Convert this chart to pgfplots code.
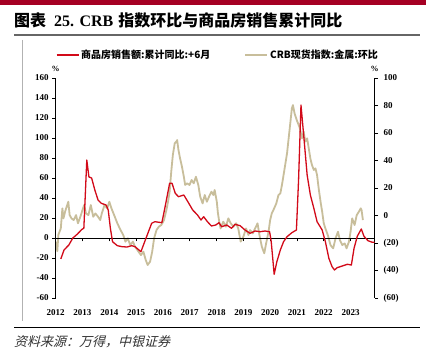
\documentclass[border=0pt]{standalone}
\usepackage{pgfplots}
\pgfplotsset{compat=1.18}
\usepackage{fontspec}
\setmainfont{Liberation Serif}
\newfontfamily\cjk{Noto Sans CJK SC}
\newfontfamily\cjkit{Noto Sans CJK SC}[FakeSlant=0.25]
\definecolor{redS}{RGB}{210,10,25}
\definecolor{beigeS}{RGB}{200,190,155}
\definecolor{band}{RGB}{165,0,35}

\begin{document}
\begin{tikzpicture}
\useasboundingbox (0pt,0pt) rectangle (426pt,361pt);
\fill[white] (0pt,0pt) rectangle (426pt,361pt);
\fill[band] (0pt,356pt) rectangle (426pt,361pt);
\node[anchor=west, inner sep=0pt] at (14pt,341pt) {\fontsize{16}{17}\selectfont\bfseries{\cjk 图表}\hspace{8pt}25. CRB\hspace{5pt}{\cjk 指数环比与商品房销售累计同比}};
\draw[line width=1.4pt, black!60] (14pt,326pt) -- (420pt,326pt);
\draw[line width=0.5pt, black!30] (22.7pt,321pt) -- (22.7pt,40pt);
\draw[line width=0.8pt, black] (14pt,34pt) -- (420pt,34pt);
\node[anchor=west, inner sep=0pt] at (14pt,19pt) {\fontsize{13}{14}\selectfont\color{black!80}\cjkit 资料来源：万得，中银证券};

\begin{axis}[
  at={(55.7pt,63pt)}, anchor=south west, width=319pt, height=220pt, scale only axis,
  xmin=2012, xmax=2023.9, ymin=-60, ymax=100,
  axis x line=none, axis y line*=right,
  axis line style={-, line width=0.8pt, black},
  ytick={-60,-40,...,100}, yticklabels={(60),(40),(20),0,20,40,60,80,100},
  tick align=outside, major tick length=3.5pt, tick style={line width=0.8pt,black},
  yticklabel style={font=\fontsize{9}{10}\selectfont\bfseries, xshift=2pt},
  ylabel={\%},
  every axis y label/.style={at={(rel axis cs:1,1)}, anchor=south, yshift=3pt, font=\fontsize{8}{9}\selectfont\bfseries},
]
\addplot[beigeS, line width=1.8pt, line join=round] coordinates {
(2012.01,-19) (2012.06,-26) (2012.10,-14) (2012.19,-9.4) (2012.25,5.2) (2012.29,-2.1) (2012.35,2.8) (2012.43,7.6) (2012.47,10) (2012.52,0.3) (2012.59,-2.1) (2012.67,-3.3) (2012.76,0.3) (2012.83,-5.7) (2012.92,-0.9)
(2013.00,4) (2013.06,7.6) (2013.13,1.5) (2013.22,0.3) (2013.31,7.6) (2013.40,-0.9) (2013.48,1.5) (2013.58,-0.9) (2013.66,-3.3) (2013.72,1.5) (2013.82,7.6) (2013.92,5.2)
(2014.00,10) (2014.08,5.2) (2014.18,0.3) (2014.30,-5.7) (2014.42,-10.6) (2014.52,-14.2) (2014.60,-19) (2014.69,-16.6) (2014.78,-21.5) (2014.88,-19) (2014.96,-22.7)
(2015.09,-26.3) (2015.18,-28.8) (2015.27,-26.3) (2015.36,-32.4) (2015.43,-36) (2015.52,-33.6) (2015.60,-26.3) (2015.67,-16.6) (2015.76,-10.6) (2015.85,-8.1) (2015.94,-6.9)
(2016.04,-3.3) (2016.13,4) (2016.19,10) (2016.25,17.3) (2016.31,31.8) (2016.37,44) (2016.44,52.5) (2016.50,53.7) (2016.53,54.9) (2016.58,47.6) (2016.64,41.5) (2016.71,35.5) (2016.78,28.2) (2016.83,22.2) (2016.90,23.4) (2016.99,22.2)
(2017.07,25.8) (2017.15,23.4) (2017.23,28.2) (2017.32,22.2) (2017.39,13.7) (2017.48,8.8) (2017.56,14.9) (2017.64,10) (2017.72,13.7) (2017.81,17.3) (2017.88,14.9) (2017.93,18.5)
(2018.01,10) (2018.05,2) (2018.10,-4.5) (2018.15,-9.4) (2018.25,-4.5) (2018.35,-8.1) (2018.44,-2.1) (2018.53,-5.7) (2018.63,-8.1) (2018.73,-5.7) (2018.81,-9.4) (2018.90,-19)
(2019.00,-15.4) (2019.10,-9.4) (2019.19,-14.2) (2019.25,-10.6) (2019.35,-13) (2019.44,-9.4) (2019.53,-5.7) (2019.60,-14.2) (2019.69,-22.7) (2019.78,-27.5) (2019.85,-20.3) (2019.94,-11.8)
(2020.00,-3.3) (2020.06,1.5) (2020.15,5.2) (2020.23,8.8) (2020.31,14.9) (2020.38,16.1) (2020.44,22.2) (2020.50,29.4) (2020.56,36.7) (2020.63,45.2) (2020.69,56.1) (2020.75,67) (2020.81,77.9) (2020.85,80.3) (2020.91,74.3)
(2021.00,69) (2021.10,64) (2021.19,56.1) (2021.25,61) (2021.31,53.7) (2021.38,56.1) (2021.44,48.8) (2021.50,41.5) (2021.56,36.7) (2021.63,33.1) (2021.69,34.3) (2021.75,29.4) (2021.81,19.7) (2021.88,10) (2021.94,2.8)
(2022.00,-5.7) (2022.06,-9.4) (2022.15,-14.2) (2022.25,-21.5) (2022.35,-23.9) (2022.44,-16.6) (2022.53,-11.8) (2022.60,-17.8) (2022.69,-21.5) (2022.78,-20.3) (2022.85,-23.9) (2022.94,-19)
(2023.00,-11.8) (2023.06,-2.1) (2023.15,-6.9) (2023.23,0.3) (2023.31,2.8) (2023.38,5.2) (2023.41,4) (2023.46,-3.3)
};
\end{axis}

\begin{axis}[
  at={(55.7pt,63pt)}, anchor=south west, width=319pt, height=220pt, scale only axis,
  xmin=2012, xmax=2023.9, ymin=-60, ymax=160,
  axis y line*=left, axis x line*=middle,
  axis line style={-, line width=0.8pt, black},
  hide obscured x ticks=false, hide obscured y ticks=false,
  xtick={2012,...,2023}, ytick={-60,-40,...,160},
  tick align=outside, major tick length=3.5pt, tick style={line width=0.8pt,black},
  /pgf/number format/assume math mode=true,
  x tick label style={/pgf/number format/1000 sep=, font=\fontsize{9}{10}\selectfont\bfseries, yshift=-64pt},
  y tick label style={font=\fontsize{9}{10}\selectfont\bfseries},
  ylabel={\%},
  every axis y label/.style={at={(rel axis cs:0,1)}, anchor=south, yshift=3pt, font=\fontsize{8}{9}\selectfont\bfseries},
  legend style={at={(0.0,1.1045)}, anchor=west, xshift=-3pt, draw=none, fill=none, font=\cjk\bfseries\fontsize{10}{11}\selectfont, legend columns=2, /tikz/every even column/.append style={column sep=32pt}},
  legend cell align=left,
  legend image code/.code={\draw[#1] (0pt,0pt) -- (22pt,0pt);},
]
\addplot[redS, line width=1.3pt, line join=round] coordinates {
(2012.19,-21) (2012.31,-12) (2012.49,-7) (2012.64,0) (2012.80,3.7) (2012.98,8.7) (2013.05,9.7) (2013.16,78) (2013.24,61) (2013.34,60) (2013.46,48) (2013.58,38) (2013.70,34.7) (2013.88,33) (2013.96,28)
(2014.04,9.7) (2014.12,-3.7) (2014.30,-7.7) (2014.48,-8.7) (2014.66,-9) (2014.84,-7.7) (2014.96,-8.7) (2015.18,-13.7) (2015.39,1.3) (2015.58,14.7) (2015.70,16.3) (2015.96,15.3)
(2016.07,29.7) (2016.25,54.7) (2016.34,54.7) (2016.46,44.7) (2016.58,41.3) (2016.78,43) (2016.93,36.3) (2017.11,28) (2017.29,23) (2017.42,18) (2017.52,21.3) (2017.66,16.3) (2017.81,12) (2017.97,13)
(2018.09,15.3) (2018.19,11.3) (2018.38,13) (2018.56,9.7) (2018.69,13.7) (2018.88,12.3) (2019.06,8) (2019.25,4.7) (2019.44,7) (2019.63,6.3) (2019.81,7) (2019.98,6.3)
(2020.04,-3.7) (2020.15,-36.3) (2020.25,-23.7) (2020.38,-12) (2020.50,-3.7) (2020.63,1.3) (2020.81,5.3) (2020.98,8) (2021.06,58) (2021.15,133) (2021.25,103) (2021.38,63) (2021.50,43) (2021.63,29.7) (2021.75,16.3) (2021.94,8)
(2022.06,-3.7) (2022.19,-20.3) (2022.31,-28.7) (2022.40,-32) (2022.50,-29.7) (2022.69,-28) (2022.88,-26.3) (2023.03,-27) (2023.13,-10.3) (2023.25,1.7) (2023.40,9) (2023.50,1.7) (2023.65,-2.7) (2023.81,-4.3) (2023.90,-4.3)
};
\addlegendentry{商品房销售额:累计同比:+6月}
\addlegendimage{beigeS, line width=1.8pt}
\addlegendentry{CRB现货指数:金属:环比}
\end{axis}
\end{tikzpicture}
\end{document}
